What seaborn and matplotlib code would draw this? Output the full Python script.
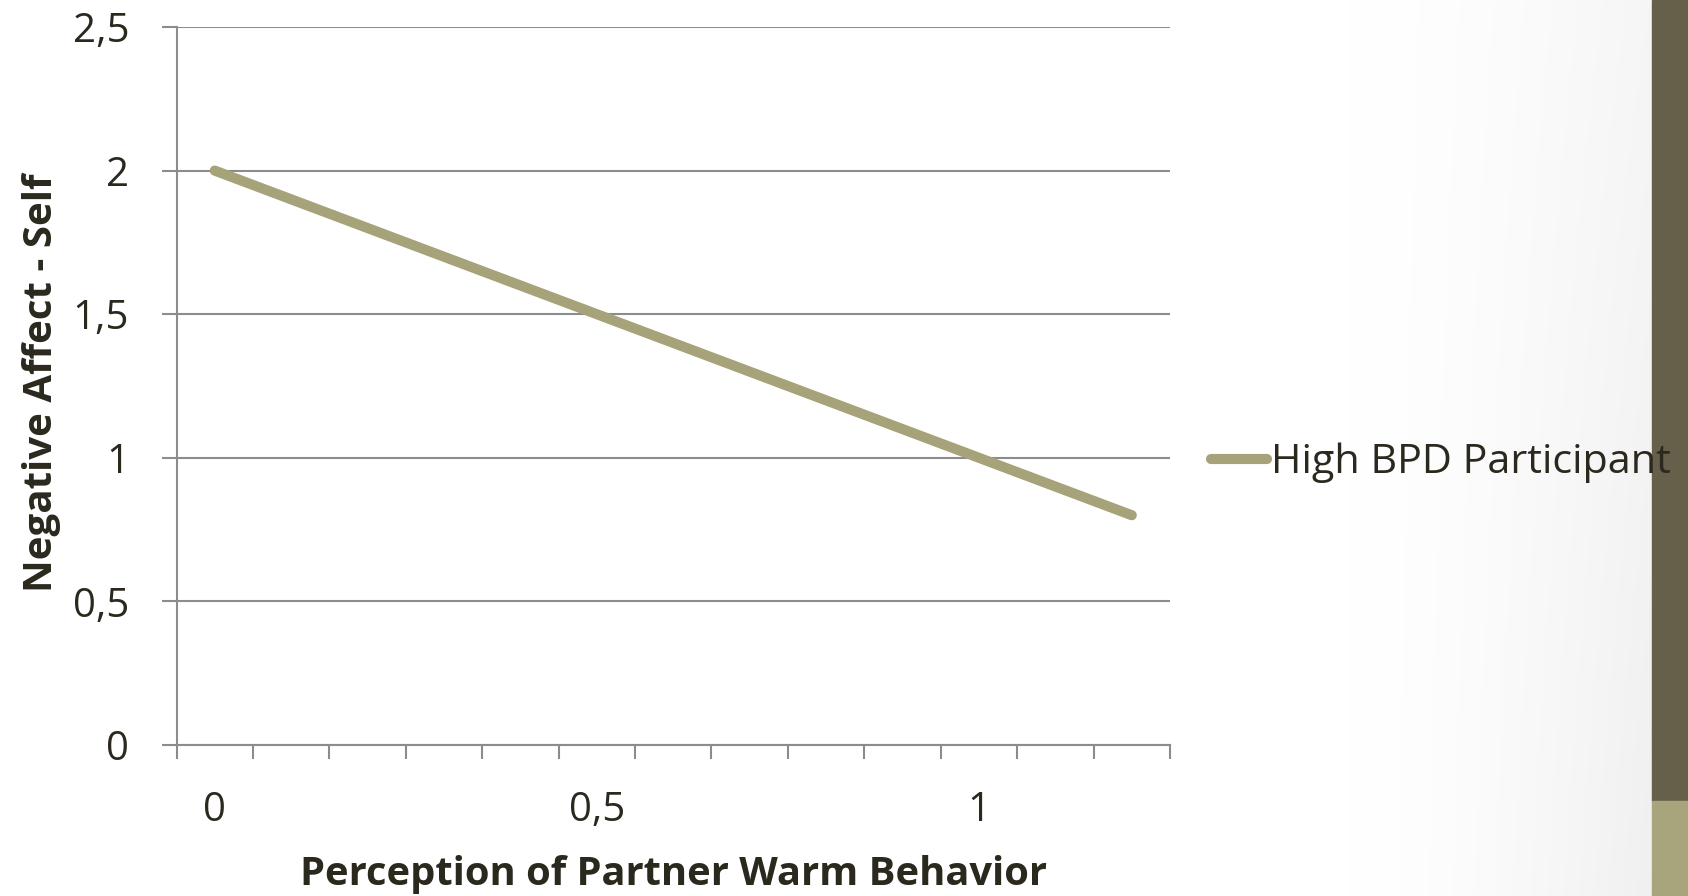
import numpy as np
import pandas as pd
import matplotlib
matplotlib.use("Agg")
import matplotlib.pyplot as plt
from matplotlib.patches import Rectangle
import seaborn as sns

# data
warmth = [0.0, 0.1, 0.2, 0.3, 0.4, 0.5, 0.6, 0.7, 0.8, 0.9, 1.0, 1.1, 1.2]
neg_affect = [2.0, 1.9, 1.8, 1.7, 1.6, 1.5, 1.4, 1.3, 1.2, 1.1, 1.0, 0.9, 0.8]
series_name = "High BPD Participant"
x_tick_values = [0, 0.5, 1]
x_tick_labels = ["0", "0,5", "1"]
y_tick_values = [0, 0.5, 1, 1.5, 2, 2.5]
y_tick_labels = ["0", "0,5", "1", "1,5", "2", "2,5"]

LINE_COLOR = "#A6A279"
GRID_COLOR = "#8C8C8C"
TEXT_COLOR = "#2B281E"

sns.set_style("white")
plt.rcParams["font.family"] = ["Open Sans", "DejaVu Sans"]

df = pd.DataFrame({"x": warmth, "y": neg_affect, "group": series_name})

fig = plt.figure(figsize=(16.88, 8.96), dpi=100)

# soft grey shading towards the right edge of the slide
bg = fig.add_axes([0, 0, 1, 1], zorder=-10)
W, H = 1688, 896
xx, yy = np.meshgrid(np.linspace(0, 1, W), np.linspace(0, 1, H))
shade = 1 - 0.06 * np.clip((xx - 0.8) / 0.18, 0, 1) ** 1.5 * (0.6 + 0.4 * yy)
bg.imshow(np.dstack([shade] * 3), aspect="auto", extent=[0, 1, 0, 1], vmin=0, vmax=1)
bg.axis("off")

# side bars of the slide (below the chart text)
fig.patches.append(Rectangle((1652 / W, 95 / H), 36 / W, 801 / H,
                             transform=fig.transFigure, color="#665F49", zorder=-5))
fig.patches.append(Rectangle((1652 / W, 0), 36 / W, 95 / H,
                             transform=fig.transFigure, color="#A8A47C", zorder=-5))

ax = fig.add_axes([176.5 / W, 1 - 745 / H, (1170 - 176.5) / W, (745 - 27) / H])
ax.patch.set_alpha(0)

sns.lineplot(data=df, x="x", y="y", hue="group", palette=[LINE_COLOR],
             linewidth=7.3, solid_capstyle="round", ax=ax, zorder=3)

ax.set_xlim(-0.05, 1.25)
ax.set_ylim(0, 2.5)

# category boundaries as tick marks, labels in between
ax.set_xticks(np.arange(-0.05, 1.26, 0.1))
ax.set_xticklabels([])
ax.set_xticks(x_tick_values, minor=True)
ax.set_xticklabels(x_tick_labels, minor=True)
ax.tick_params(axis="x", which="major", direction="out", length=10,
               width=1.5, color=GRID_COLOR, bottom=True)
ax.tick_params(axis="x", which="minor", length=0, pad=33,
               labelsize=29, labelcolor=TEXT_COLOR)

ax.set_yticks(y_tick_values)
ax.set_yticklabels(y_tick_labels)
ax.tick_params(axis="y", direction="out", length=11, width=1.5, color=GRID_COLOR,
               left=True, pad=23, labelsize=29, labelcolor=TEXT_COLOR)

ax.yaxis.grid(True, color=GRID_COLOR, linewidth=1.5)
ax.xaxis.grid(False)
for s in ["top", "right"]:
    ax.spines[s].set_visible(False)
for s in ["left", "bottom"]:
    ax.spines[s].set_color(GRID_COLOR)
    ax.spines[s].set_linewidth(1.5)

ax.set_xlabel("Perception of Partner Warm Behavior", fontsize=28.7,
              fontweight="bold", color=TEXT_COLOR, va="center")
ax.xaxis.set_label_coords(0.500, -0.18)
ax.set_ylabel("Negative Affect - Self", fontsize=29,
              fontweight="bold", color=TEXT_COLOR, va="center")
ax.yaxis.set_label_coords(-0.136, 0.504)

leg = ax.legend(loc="center left", bbox_to_anchor=(1211 / W, 1 - 463 / H),
                bbox_transform=fig.transFigure, frameon=False, fontsize=29.8,
                handlelength=1.35, handletextpad=0.1, borderpad=0, borderaxespad=0)
for t in leg.get_texts():
    t.set_color(TEXT_COLOR)
leg.set_zorder(10)

fig.savefig("out.png", dpi=100)
